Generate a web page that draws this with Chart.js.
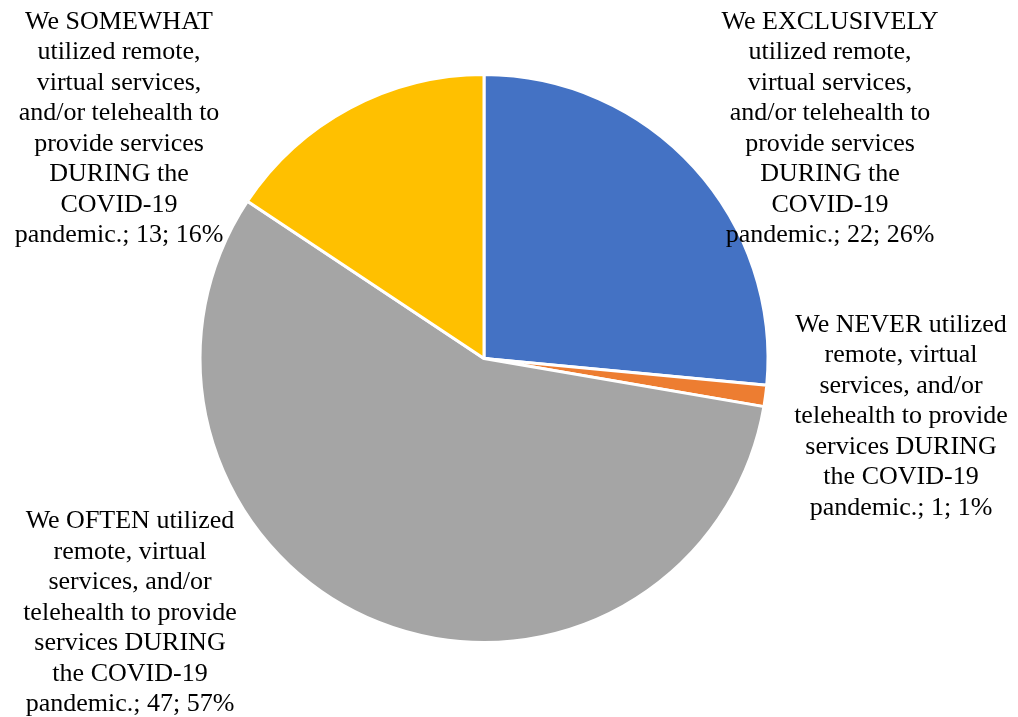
<!DOCTYPE html>
<html>
<head>
<meta charset="utf-8">
<script src="https://cdn.jsdelivr.net/npm/chart.js@4.4.1/dist/chart.umd.min.js"></script>
<style>
  html, body { margin: 0; padding: 0; background: #ffffff; }
  #wrap { width: 1018px; height: 717px; position: relative; }
</style>
</head>
<body>
<div id="wrap"><canvas id="c" width="1018" height="717"></canvas></div>
<script>
// ---- data ----
const categories = [
  "We EXCLUSIVELY utilized remote, virtual services, and/or telehealth to provide services DURING the COVID-19 pandemic.",
  "We NEVER utilized remote, virtual services, and/or telehealth to provide services DURING the COVID-19 pandemic.",
  "We OFTEN utilized remote, virtual services, and/or telehealth to provide services DURING the COVID-19 pandemic.",
  "We SOMEWHAT utilized remote, virtual services, and/or telehealth to provide services DURING the COVID-19 pandemic."
];
const counts = [22, 1, 47, 13];
const percentLabels = ["26%", "1%", "57%", "16%"];
const sliceColors = ["#4472C4", "#ED7D31", "#A5A5A5", "#FFC000"];

// label wrapping widths (layout) and anchors relative to pie centre
const labelLayout = [
  { maxW: 226, dx: 346, baseY: 28.5 },
  { maxW: 222, dx: 417, baseY: 331.5 },
  { maxW: 222, dx: -354, baseY: 528 },
  { maxW: 215, dx: -365, baseY: 28.5 }
];
const FONT = "26px 'Liberation Serif', 'Times New Roman', serif";
const LINE_H = 30.5;

function wrap(ctx, text, maxW) {
  const words = text.split(" ");
  const lines = [];
  let cur = "";
  for (const w of words) {
    const t = cur ? cur + " " + w : w;
    if (ctx.measureText(t).width > maxW && cur) { lines.push(cur); cur = w; }
    else cur = t;
  }
  if (cur) lines.push(cur);
  return lines;
}

const labelPlugin = {
  id: "sliceLabels",
  afterDatasetsDraw(chart) {
    const ctx = chart.ctx;
    const meta = chart.getDatasetMeta(0);
    const arc0 = meta.data[0];
    const cx = arc0.x;
    ctx.save();
    ctx.font = FONT;
    ctx.fillStyle = "#000000";
    ctx.textAlign = "center";
    ctx.textBaseline = "alphabetic";
    categories.forEach((cat, i) => {
      const full = cat + "; " + counts[i] + "; " + percentLabels[i];
      const L = labelLayout[i];
      const lines = wrap(ctx, full, L.maxW);
      lines.forEach((ln, k) => {
        ctx.fillText(ln, cx + L.dx, L.baseY + k * LINE_H);
      });
    });
    ctx.restore();
  }
};

new Chart(document.getElementById("c"), {
  type: "pie",
  data: {
    labels: categories,
    datasets: [{
      data: counts,
      backgroundColor: sliceColors,
      borderColor: "#ffffff",
      borderWidth: 3
    }]
  },
  options: {
    responsive: false,
    animation: false,
    radius: 284,
    layout: { padding: { left: 0, right: 50, top: 0, bottom: 0 } },
    plugins: {
      legend: { display: false },
      tooltip: { enabled: false }
    }
  },
  plugins: [labelPlugin]
});
</script>
</body>
</html>
